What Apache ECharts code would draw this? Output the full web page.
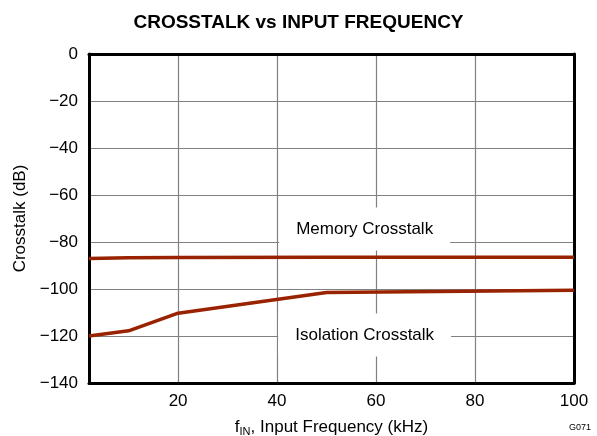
<!DOCTYPE html>
<html>
<head>
<meta charset="utf-8">
<script src="https://cdn.jsdelivr.net/npm/echarts@6/dist/echarts.min.js"></script>
<style>
  html, body { margin: 0; padding: 0; background: #fff; }
  #chart { width: 597px; height: 436px; }
</style>
</head>
<body>
<div id="chart"></div>
<script>
// Crosstalk measurements versus input frequency
const freqKHz = [2, 10, 20, 50, 100];
const memoryCrosstalk = [-87, -86.7, -86.6, -86.5, -86.5];
const isolationCrosstalk = [-120, -117.8, -110.3, -101.5, -100.5];

// Axis ranges and tick values
const xRange = [2, 100];
const xTickValues = [20, 40, 60, 80, 100];
const yRange = [-140, 0];
const yStep = 20;

// Label anchor points (data coordinates) for the curve captions
const memoryLabelAt = [57.7, -74.5];
const isolationLabelAt = [57.7, -119.6];

const FONT = '"Liberation Sans", Arial, Helvetica, sans-serif';
const LINE_COLOR = '#992200';
const minus = v => (v < 0 ? '\u2212' + Math.abs(v) : String(v));

const chart = echarts.init(document.getElementById('chart'), null, { renderer: 'canvas' });

const captionLabel = text => ({
  show: true,
  formatter: text,
  position: 'inside',
  color: '#000',
  fontFamily: FONT,
  fontSize: 17,
  backgroundColor: '#fff',
  padding: [13, 17, 13, 17]
});

chart.setOption({
  animation: false,
  backgroundColor: '#fff',
  title: {
    text: 'CROSSTALK vs INPUT FREQUENCY',
    left: 'center',
    top: 8,
    textStyle: { fontFamily: FONT, fontSize: 19, fontWeight: 'bold', color: '#000' }
  },
  grid: {
    left: 89, right: 23, top: 54, bottom: 53,
    containLabel: false,
    outerBoundsMode: 'none'
  },
  xAxis: [
    {
      type: 'value',
      min: xRange[0],
      max: xRange[1],
      name: '{a|f}{s|IN}{a|, Input Frequency (kHz)}',
      nameLocation: 'middle',
      nameGap: 34,
      nameTextStyle: {
        rich: {
          a: { fontFamily: FONT, fontSize: 17, color: '#000' },
          s: { fontFamily: FONT, fontSize: 11, color: '#000', padding: [9, 0, 0, 0] }
        }
      },
      axisLine: { show: true, onZero: false, lineStyle: { color: '#000', width: 3 } },
      axisTick: { show: false, customValues: xTickValues },
      axisLabel: {
        customValues: xTickValues,
        fontFamily: FONT, fontSize: 17, color: '#000', margin: 10
      },
      splitLine: { show: true, lineStyle: { color: '#808080', width: 1.2 } }
    },
    {
      type: 'value',
      position: 'top',
      min: xRange[0],
      max: xRange[1],
      axisLine: { show: true, onZero: false, lineStyle: { color: '#000', width: 3 } },
      axisTick: { show: false },
      axisLabel: { show: false },
      splitLine: { show: false }
    }
  ],
  yAxis: [
    {
      type: 'value',
      min: yRange[0],
      max: yRange[1],
      interval: yStep,
      name: 'Crosstalk (dB)',
      nameLocation: 'middle',
      nameGap: 60,
      nameTextStyle: { fontFamily: FONT, fontSize: 17, color: '#000' },
      axisLine: { show: true, onZero: false, lineStyle: { color: '#000', width: 3 } },
      axisTick: { show: false },
      axisLabel: {
        fontFamily: FONT, fontSize: 17, color: '#000', margin: 11,
        formatter: minus
      },
      splitLine: { show: true, lineStyle: { color: '#808080', width: 1.2 } }
    },
    {
      type: 'value',
      position: 'right',
      min: yRange[0],
      max: yRange[1],
      interval: yStep,
      axisLine: { show: true, onZero: false, lineStyle: { color: '#000', width: 3 } },
      axisTick: { show: false },
      axisLabel: { show: false },
      splitLine: { show: false }
    }
  ],
  series: [
    {
      name: 'Memory Crosstalk',
      type: 'line',
      data: freqKHz.map((f, i) => [f, memoryCrosstalk[i]]),
      showSymbol: false,
      lineStyle: { color: LINE_COLOR, width: 3.5 },
      z: 3,
      markPoint: {
        symbol: 'rect',
        symbolSize: 1,
        itemStyle: { color: 'rgba(0,0,0,0)' },
        label: captionLabel('Memory Crosstalk'),
        data: [{ coord: memoryLabelAt }]
      }
    },
    {
      name: 'Isolation Crosstalk',
      type: 'line',
      data: freqKHz.map((f, i) => [f, isolationCrosstalk[i]]),
      showSymbol: false,
      lineStyle: { color: LINE_COLOR, width: 3.5 },
      z: 3,
      markPoint: {
        symbol: 'rect',
        symbolSize: 1,
        itemStyle: { color: 'rgba(0,0,0,0)' },
        label: captionLabel('Isolation Crosstalk'),
        data: [{ coord: isolationLabelAt }]
      }
    }
  ],
  graphic: [
    {
      type: 'text',
      right: 6,
      bottom: 4,
      style: { text: 'G071', fontFamily: FONT, fontSize: 9, fill: '#000' }
    }
  ]
});
</script>
</body>
</html>
